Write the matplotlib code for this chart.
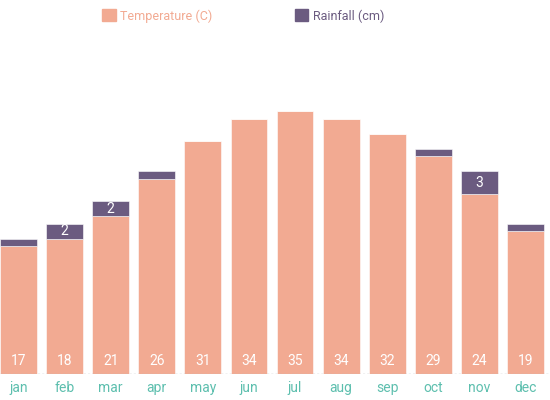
import numpy as np
import matplotlib.pyplot as plt
from matplotlib.patches import Patch

months = ["jan", "feb", "mar", "apr", "may", "jun", "jul", "aug", "sep", "oct", "nov", "dec"]
temperature = [17, 18, 21, 26, 31, 34, 35, 34, 32, 29, 24, 19]
rainfall = [1, 2, 2, 1, 0, 0, 0, 0, 0, 1, 3, 1]

temp_color = "#f2aa92"
rain_color = "#6b5b80"
tick_color = "#5dbfae"

plt.rcParams['font.family'] = ['Roboto', 'DejaVu Sans']

fig = plt.figure(figsize=(5.5, 4), dpi=100)
ax = fig.add_axes([0, 26 / 400, 1, 334 / 400])

x = np.arange(len(months))
ax.bar(x, temperature, width=0.8, color=temp_color, edgecolor="white", linewidth=0.4)
ax.bar(x, rainfall, width=0.8, bottom=temperature, color=rain_color, edgecolor="white", linewidth=0.4)

for i in range(len(months)):
    ax.text(x[i], 1.7, str(temperature[i]), ha="center", va="center", color="white", fontsize=10)
    if rainfall[i] > 1:
        ax.text(x[i], temperature[i] + rainfall[i] / 2, str(rainfall[i]), ha="center", va="center",
                color="white", fontsize=10)

ax.set_xlim(-0.4, 11.53)
ax.set_ylim(0, 44.5)
ax.axhline(0, color="#bbbbbb", linestyle=(0, (1.5, 1.5)), linewidth=1)

ax.set_xticks(x)
ax.set_xticklabels(months, color=tick_color, fontsize=10)
ax.tick_params(axis="x", length=0, pad=5)
ax.set_yticks([])
for s in ax.spines.values():
    s.set_visible(False)

handles = [Patch(color=temp_color), Patch(color=rain_color)]
fig.legend(handles, ["Temperature (C)", "Rainfall (cm)"], loc="center", bbox_to_anchor=(243 / 550, 1 - 16 / 400),
           ncol=2, frameon=False, fontsize=9, handlelength=1.1, handleheight=1.1, handletextpad=0.35,
           columnspacing=6.6, labelcolor=[temp_color, rain_color])

fig.savefig("out.png", dpi=100)
